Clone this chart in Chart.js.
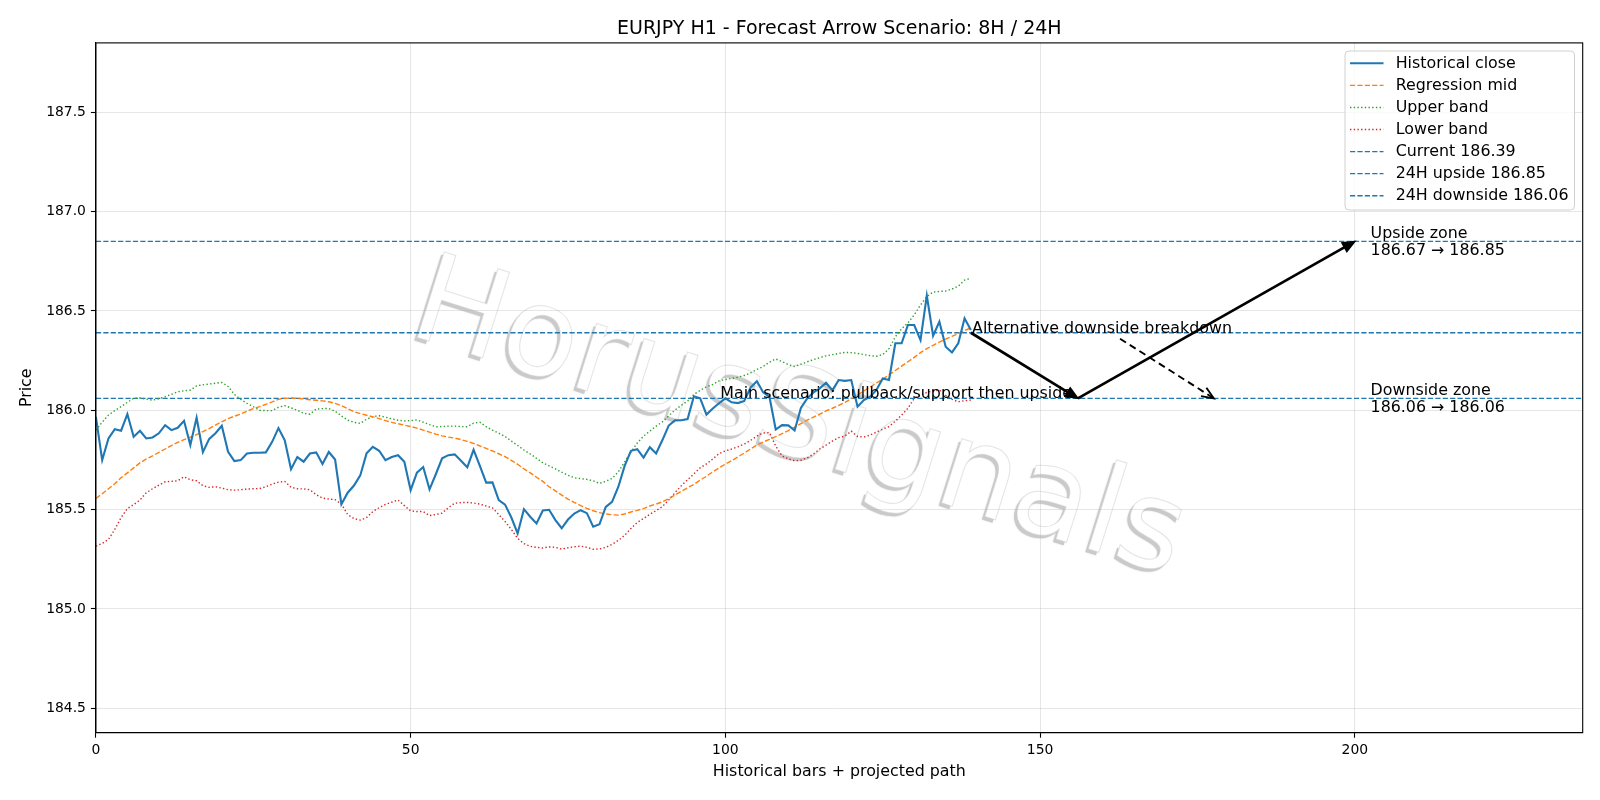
<!DOCTYPE html>
<html>
<head>
<meta charset="utf-8">
<title>EURJPY H1 - Forecast Arrow Scenario</title>
<script src="https://cdn.jsdelivr.net/npm/chart.js@4.4.1/dist/chart.umd.min.js"></script>
<style>
  html, body { margin: 0; padding: 0; background: #fff; }
</style>
</head>
<body>
<canvas id="chart" width="1600" height="800"></canvas>
<script>
// historical closes, one per bar (x = bar index)
const closeValues = [
  185.967, 185.749, 185.858, 185.905, 185.897, 185.981, 185.867, 185.897, 185.858, 185.863,
  185.884, 185.925, 185.900, 185.912, 185.947, 185.825, 185.962, 185.789, 185.856, 185.884,
  185.922, 185.791, 185.744, 185.749, 185.782, 185.786, 185.786, 185.788, 185.841, 185.910,
  185.849, 185.703, 185.764, 185.741, 185.782, 185.788, 185.729, 185.790, 185.752, 185.527,
  185.585, 185.621, 185.672, 185.783, 185.816, 185.796, 185.749, 185.765, 185.774, 185.741,
  185.598, 185.686, 185.714, 185.602, 185.678, 185.758, 185.774, 185.778, 185.746, 185.713,
  185.801, 185.720, 185.636, 185.637, 185.548, 185.525, 185.460, 185.380, 185.502, 185.464,
  185.430, 185.495, 185.499, 185.447, 185.406, 185.450, 185.480, 185.497, 185.482, 185.414,
  185.426, 185.514, 185.539, 185.615, 185.720, 185.796, 185.804, 185.762, 185.814, 185.782,
  185.850, 185.923, 185.949, 185.950, 185.956, 186.070, 186.060, 185.978, 186.009, 186.035,
  186.060, 186.040, 186.036, 186.047, 186.114, 186.146, 186.090, 186.068, 185.903, 185.925,
  185.924, 185.898, 186.012, 186.060, 186.090, 186.110, 186.138, 186.100, 186.152, 186.148,
  186.152, 186.018, 186.051, 186.068, 186.102, 186.160, 186.152, 186.337, 186.337, 186.429,
  186.429, 186.353, 186.577, 186.375, 186.446, 186.320, 186.291, 186.337, 186.463, 186.404
];

const regressionMid = [
  185.556, 185.580, 185.605, 185.630, 185.660, 185.685, 185.710, 185.735, 185.755, 185.770,
  185.788, 185.805, 185.822, 185.838, 185.852, 185.865, 185.877, 185.893, 185.908, 185.925,
  185.942, 185.958, 185.970, 185.981, 185.995, 186.008, 186.018, 186.030, 186.042, 186.055,
  186.060, 186.062, 186.060, 186.057, 186.053, 186.050, 186.047, 186.043, 186.035, 186.023,
  186.008, 185.993, 185.983, 185.975, 185.967, 185.958, 185.948, 185.939, 185.932, 185.925,
  185.918, 185.910, 185.900, 185.890, 185.880, 185.871, 185.865, 185.860, 185.852, 185.843,
  185.833, 185.820, 185.808, 185.795, 185.781, 185.766, 185.748, 185.728, 185.705, 185.685,
  185.663, 185.642, 185.615, 185.594, 185.573, 185.553, 185.536, 185.520, 185.506, 185.494,
  185.485, 185.478, 185.474, 185.472, 185.478, 185.488, 185.496, 185.505, 185.518, 185.528,
  185.539, 185.555, 185.573, 185.592, 185.610, 185.627, 185.648, 185.668, 185.690, 185.710,
  185.729, 185.746, 185.765, 185.785, 185.805, 185.825, 185.840, 185.853, 185.867, 185.882,
  185.898, 185.915, 185.933, 185.950, 185.965, 185.980, 185.997, 186.010, 186.024, 186.040,
  186.058, 186.077, 186.097, 186.117, 186.137, 186.157, 186.178, 186.200, 186.222, 186.244,
  186.266, 186.290, 186.310, 186.327, 186.343, 186.358, 186.372, 186.387, 186.400, 186.415
];

const upperBand = [
  185.900, 185.940, 185.976, 185.998, 186.018, 186.040, 186.060, 186.062, 186.056, 186.051,
  186.058, 186.068, 186.080, 186.093, 186.098, 186.101, 186.123, 186.128, 186.132, 186.136,
  186.140, 186.120, 186.080, 186.055, 186.035, 186.018, 186.000, 185.998, 185.998, 186.015,
  186.023, 186.012, 186.000, 185.985, 185.980, 186.006, 186.008, 186.009, 185.995, 185.972,
  185.950, 185.939, 185.934, 185.955, 185.968, 185.972, 185.965, 185.956, 185.950, 185.946,
  185.948, 185.951, 185.940, 185.928, 185.917, 185.918, 185.920, 185.920, 185.918, 185.917,
  185.935, 185.940, 185.917, 185.900, 185.885, 185.868, 185.845, 185.823, 185.800, 185.780,
  185.758, 185.736, 185.720, 185.705, 185.688, 185.673, 185.660, 185.656, 185.652, 185.645,
  185.632, 185.642, 185.657, 185.690, 185.740, 185.790, 185.835, 185.870, 185.895, 185.920,
  185.942, 185.972, 186.001, 186.025, 186.046, 186.080, 186.100, 186.118, 186.130, 186.148,
  186.155, 186.160, 186.166, 186.175, 186.188, 186.205, 186.220, 186.242, 186.258, 186.245,
  186.230, 186.220, 186.232, 186.244, 186.255, 186.265, 186.274, 186.280, 186.286, 186.291,
  186.290, 186.286, 186.280, 186.275, 186.272, 186.280, 186.310, 186.370, 186.410, 186.440,
  186.480, 186.530, 186.572, 186.595, 186.598, 186.600, 186.610, 186.625, 186.655, 186.664
];

const lowerBand = [
  185.316, 185.330, 185.350, 185.400, 185.460, 185.505, 185.525, 185.548, 185.585, 185.605,
  185.623, 185.640, 185.642, 185.645, 185.665, 185.650, 185.645, 185.620, 185.612, 185.615,
  185.608, 185.600, 185.598, 185.600, 185.603, 185.605, 185.606, 185.615, 185.628, 185.638,
  185.642, 185.612, 185.605, 185.604, 185.600, 185.575, 185.558, 185.553, 185.550, 185.528,
  185.475, 185.455, 185.447, 185.460, 185.490, 185.510, 185.526, 185.537, 185.548, 185.520,
  185.493, 185.490, 185.490, 185.470, 185.475, 185.482, 185.510, 185.532, 185.535, 185.536,
  185.533, 185.528, 185.518, 185.509, 185.475, 185.440, 185.400, 185.355, 185.329, 185.315,
  185.310, 185.307, 185.312, 185.310, 185.301, 185.308, 185.313, 185.316, 185.310, 185.300,
  185.302, 185.310, 185.325, 185.345, 185.370, 185.405, 185.435, 185.455, 185.476, 185.495,
  185.515, 185.548, 185.585, 185.620, 185.650, 185.680, 185.710, 185.730, 185.755, 185.782,
  185.795, 185.805, 185.816, 185.830, 185.848, 185.870, 185.885, 185.888, 185.820, 185.770,
  185.755, 185.746, 185.748, 185.760, 185.780, 185.805, 185.825, 185.845, 185.862, 185.870,
  185.895, 185.868, 185.865, 185.875, 185.890, 185.905, 185.918, 185.945, 185.975, 186.010,
  186.060, 186.075, 186.090, 186.097, 186.102, 186.075, 186.055, 186.043, 186.048, 186.051
];

// horizontal levels
const levelNames = ['Current', '24H upside', '24H downside'];
const levelValues = [186.39, 186.85, 186.06];

// scenario arrows (data units)
const arrowFromX = [139, 156, 162.7];
const arrowFromY = [186.39, 186.06, 186.36];
const arrowToX = [156, 200, 177.6];
const arrowToY = [186.06, 186.85, 186.06];

const noteTexts = ['Main scenario: pullback/support then upside', 'Alternative downside breakdown'];
const noteX = [99.2, 139.2];
const noteY = [186.06, 186.39];

const zoneTexts = ['Upside zone\n186.67 \u2192 186.85', 'Downside zone\n186.06 \u2192 186.06'];
const zoneX = [202.5, 202.5];
const zoneY = [186.85, 186.06];

const xTicks = [0, 50, 100, 150, 200];
const yTicks = [184.5, 185.0, 185.5, 186.0, 186.5, 187.0, 187.5];
const xMax = 236.2;
const yMin = 184.377, yMax = 187.849;

const FONT = "'DejaVu Sans', 'Liberation Sans', sans-serif";
const TEXT_PX = 15.85;

const toPoints = (arr) => arr.map((v, i) => ({ x: i, y: v }));

const datasets = [
  { label: 'Historical close', data: toPoints(closeValues), borderColor: '#1f77b4', borderWidth: 2.1, borderDash: [] },
  { label: 'Regression mid', data: toPoints(regressionMid), borderColor: '#ff7f0e', borderWidth: 1.4, borderDash: [5.2, 2.2] },
  { label: 'Upper band', data: toPoints(upperBand), borderColor: '#2ca02c', borderWidth: 1.4, borderDash: [1.4, 2.3] },
  { label: 'Lower band', data: toPoints(lowerBand), borderColor: '#d62728', borderWidth: 1.4, borderDash: [1.4, 2.3] }
];
levelValues.forEach((v, k) => {
  datasets.push({
    label: levelNames[k] + ' ' + v.toFixed(2),
    data: [{ x: 0, y: v }, { x: xMax, y: v }],
    borderColor: '#1f77b4', borderWidth: 1.4, borderDash: [5.2, 2.2]
  });
});
datasets.forEach(d => { d.pointRadius = 0; d.tension = 0; d.fill = false; });

function drawArrow(ctx, x1, y1, x2, y2, dashed) {
  const a = Math.atan2(y2 - y1, x2 - x1);
  const len = 12, half = 5;
  const c = Math.cos(a), s = Math.sin(a);
  ctx.save();
  ctx.strokeStyle = '#000';
  ctx.fillStyle = '#000';
  ctx.lineWidth = dashed ? 1.9 : 2.7;
  ctx.setLineDash(dashed ? [7, 4.5] : []);
  ctx.beginPath();
  ctx.moveTo(x1, y1);
  if (dashed) ctx.lineTo(x2, y2);
  else ctx.lineTo(x2 - c * len * 0.8, y2 - s * len * 0.8);
  ctx.stroke();
  ctx.setLineDash([]);
  const bx = x2 - c * len, by = y2 - s * len;
  ctx.beginPath();
  ctx.moveTo(bx - s * half, by + c * half);
  ctx.lineTo(x2, y2);
  ctx.lineTo(bx + s * half, by - c * half);
  if (dashed) {
    ctx.lineWidth = 1.9;
    ctx.stroke();
  } else {
    ctx.closePath();
    ctx.fill();
    ctx.lineWidth = 1.5;
    ctx.stroke();
  }
  ctx.restore();
}

const overlay = {
  id: 'overlay',
  beforeDraw(chart) {
    // watermark sits under the grid
    const { ctx, chartArea } = chart;
    ctx.save();
    ctx.beginPath();
    ctx.rect(chartArea.left, chartArea.top, chartArea.right - chartArea.left, chartArea.bottom - chartArea.top);
    ctx.clip();
    ctx.font = '123px ' + FONT;
    ctx.textAlign = 'center';
    ctx.textBaseline = 'middle';
    const cx = 798, cy = 424, rot = 17.5 * Math.PI / 180;
    ctx.save();
    ctx.translate(cx - 3, cy + 3);
    ctx.rotate(rot);
    ctx.shadowColor = 'rgba(0,0,0,0.15)';
    ctx.shadowBlur = 2;
    ctx.fillStyle = '#cacaca';
    ctx.fillText('HorusSignals', 0, 0);
    ctx.restore();
    ctx.save();
    ctx.translate(cx, cy);
    ctx.rotate(rot);
    ctx.fillStyle = '#ffffff';
    ctx.fillText('HorusSignals', 0, 0);
    ctx.strokeStyle = 'rgba(205,205,205,0.55)';
    ctx.lineWidth = 1;
    ctx.strokeText('HorusSignals', 0, 0);
    ctx.restore();
    ctx.restore();
  },
  afterDatasetsDraw(chart) {
    const { ctx } = chart;
    const xs = chart.scales.x, ys = chart.scales.y;

    for (let k = 0; k < arrowFromX.length; k++) {
      drawArrow(ctx,
        xs.getPixelForValue(arrowFromX[k]), ys.getPixelForValue(arrowFromY[k]),
        xs.getPixelForValue(arrowToX[k]), ys.getPixelForValue(arrowToY[k]),
        k === 2);
    }

    ctx.save();
    ctx.fillStyle = '#000';
    ctx.font = TEXT_PX + 'px ' + FONT;
    ctx.textAlign = 'left';
    ctx.textBaseline = 'alphabetic';
    noteTexts.forEach((t, k) => {
      ctx.fillText(t, xs.getPixelForValue(noteX[k]), ys.getPixelForValue(noteY[k]));
    });
    ctx.textBaseline = 'middle';
    zoneTexts.forEach((t, k) => {
      const lines = t.split('\n');
      const px = xs.getPixelForValue(zoneX[k]);
      const py = ys.getPixelForValue(zoneY[k]);
      const lh = 16.8;
      lines.forEach((ln, j) => {
        ctx.fillText(ln, px, py + (j - (lines.length - 1) / 2) * lh + 1);
      });
    });
    ctx.restore();

    // legend box, upper right
    const boxL = 1345, boxT = 51, boxW = 229.5, boxH = 159;
    ctx.save();
    ctx.beginPath();
    ctx.roundRect(boxL, boxT, boxW, boxH, 4);
    ctx.fillStyle = 'rgba(255,255,255,0.8)';
    ctx.fill();
    ctx.strokeStyle = '#d0d0d0';
    ctx.lineWidth = 1;
    ctx.stroke();
    ctx.font = TEXT_PX + 'px ' + FONT;
    ctx.textBaseline = 'middle';
    ctx.textAlign = 'left';
    chart.data.datasets.forEach((d, k) => {
      const y = 63.3 + k * 22.07;
      ctx.beginPath();
      ctx.strokeStyle = d.borderColor;
      ctx.lineWidth = d.borderWidth;
      ctx.setLineDash(d.borderDash || []);
      ctx.moveTo(1350, y);
      ctx.lineTo(1383.5, y);
      ctx.stroke();
      ctx.setLineDash([]);
      ctx.fillStyle = '#000';
      ctx.fillText(d.label, 1395.7, y + 0.5);
    });
    ctx.restore();
  },
  afterDraw(chart) {
    const { ctx, chartArea } = chart;
    ctx.save();
    ctx.strokeStyle = '#000';
    ctx.lineWidth = 1.1;
    ctx.strokeRect(chartArea.left, chartArea.top, chartArea.right - chartArea.left, chartArea.bottom - chartArea.top);
    const midX = (chartArea.left + chartArea.right) / 2;
    ctx.fillStyle = '#000';
    ctx.textAlign = 'center';
    ctx.font = '19px ' + FONT;
    ctx.textBaseline = 'alphabetic';
    ctx.fillText('EURJPY H1 - Forecast Arrow Scenario: 8H / 24H', midX, 33.5);
    ctx.font = TEXT_PX + 'px ' + FONT;
    ctx.textBaseline = 'middle';
    ctx.fillText('Historical bars + projected path', midX, 771.5);
    ctx.translate(26.5, (chartArea.top + chartArea.bottom) / 2);
    ctx.rotate(-Math.PI / 2);
    ctx.fillText('Price', 0, 0);
    ctx.restore();
  }
};

new Chart(document.getElementById('chart'), {
  type: 'line',
  data: { datasets: datasets },
  options: {
    responsive: false,
    animation: false,
    devicePixelRatio: 1,
    layout: { padding: { left: 0, right: 17.3, top: 42.9, bottom: 0 } },
    plugins: {
      legend: { display: false },
      title: { display: false },
      tooltip: { enabled: false }
    },
    scales: {
      x: {
        type: 'linear',
        min: 0,
        max: xMax,
        afterFit: (scale) => { scale.height = 67.3; },
        afterBuildTicks: (scale) => { scale.ticks = xTicks.map(v => ({ value: v })); },
        ticks: { color: '#000', font: { family: FONT, size: 13.9 }, padding: 4, maxRotation: 0, callback: (v) => String(v) },
        grid: { color: 'rgba(176,176,176,0.32)', lineWidth: 1, tickColor: '#000', tickLength: 5, tickWidth: 1.1 },
        border: { color: '#000', width: 1.1 }
      },
      y: {
        type: 'linear',
        min: yMin,
        max: yMax,
        afterFit: (scale) => { scale.width = 95.9; },
        afterBuildTicks: (scale) => { scale.ticks = yTicks.map(v => ({ value: v })); },
        ticks: { color: '#000', font: { family: FONT, size: 13.9 }, padding: 5, callback: (v) => Number(v).toFixed(1) },
        grid: { color: 'rgba(176,176,176,0.32)', lineWidth: 1, tickColor: '#000', tickLength: 5, tickWidth: 1.1 },
        border: { color: '#000', width: 1.1 }
      }
    }
  },
  plugins: [overlay]
});
</script>
</body>
</html>
